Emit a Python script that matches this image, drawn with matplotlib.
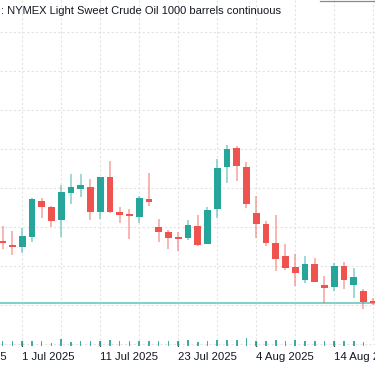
import matplotlib
matplotlib.use("Agg")
import matplotlib.pyplot as plt
import matplotlib.transforms as mtransforms
from matplotlib.lines import Line2D
import numpy as np

# ---- data ----
dates = ["27 Jun", "30 Jun", "1 Jul", "2 Jul", "3 Jul", "4 Jul", "7 Jul", "8 Jul", "9 Jul", "10 Jul",
         "11 Jul", "14 Jul", "15 Jul", "16 Jul", "17 Jul", "18 Jul", "21 Jul", "22 Jul", "23 Jul", "24 Jul",
         "25 Jul", "28 Jul", "29 Jul", "30 Jul", "31 Jul", "1 Aug", "4 Aug", "5 Aug", "6 Aug", "7 Aug",
         "8 Aug", "11 Aug", "12 Aug", "13 Aug", "14 Aug", "15 Aug", "18 Aug", "19 Aug", "20 Aug"]
opens = [65.31, 65.04, 65.01, 65.50, 67.36, 67.03, 66.37, 67.76, 67.98, 68.08,
         66.81, 68.56, 66.80, 66.68, 66.54, 67.45, 66.00, 65.76, 65.49, 65.44,
         66.07, 65.13, 66.94, 69.11, 70.05, 69.11, 66.72, 66.17, 65.19, 64.53,
         63.95, 63.30, 64.12, 63.04, 62.92, 64.02, 63.04, 62.75, 62.15]
highs = [66.08, 65.81, 65.95, 67.48, 67.49, 67.11, 68.17, 68.72, 68.73, 68.46,
         68.59, 69.42, 67.06, 66.94, 67.61, 68.80, 66.41, 65.86, 65.76, 66.37,
         66.63, 67.03, 69.50, 70.24, 70.17, 69.33, 67.61, 66.34, 66.63, 65.14,
         64.63, 64.53, 64.43, 63.50, 64.18, 64.24, 63.91, 62.82, 62.36]
lows = [64.87, 64.56, 64.70, 65.26, 66.49, 66.03, 65.52, 67.21, 67.57, 66.37,
        66.44, 66.71, 66.21, 65.40, 66.24, 67.09, 65.25, 64.87, 64.80, 65.35,
        65.06, 65.12, 66.48, 68.29, 68.39, 66.97, 65.44, 65.04, 63.76, 63.81,
        62.99, 63.16, 63.20, 62.13, 62.75, 62.84, 62.39, 61.79, 62.02]
closes = [65.18, 64.99, 65.55, 67.44, 67.06, 66.31, 67.79, 68.05, 68.15, 66.78,
          68.56, 66.76, 66.64, 66.56, 67.49, 67.28, 65.76, 65.47, 65.40, 66.12,
          65.09, 66.89, 69.06, 70.02, 69.14, 67.18, 66.18, 65.19, 64.36, 63.93,
          63.67, 64.12, 63.21, 62.87, 64.02, 63.28, 63.44, 62.18, 62.12]
volumes = [300, 300, 300, 300, 300, 140, 380, 220, 280, 300,
           300, 360, 280, 300, 280, 280, 280, 280, 300, 320,
           220, 300, 340, 340, 340, 440, 300, 300, 340, 300,
           360, 280, 300, 260, 300, 280, 260, 220, 0]
tick_idx = [-6, 2, 10, 18, 26, 34]
tick_labels = ["19 Jun 2025", "1 Jul 2025", "11 Jul 2025", "23 Jul 2025", "4 Aug 2025", "14 Aug 2025"]
grid_prices = [60, 62, 64, 66, 68, 70, 72, 74, 76]
title = ": NYMEX Light Sweet Crude Oil 1000 barrels continuous"

UP = "#26a69a"
DOWN = "#ef5350"

W, H = 375, 366
fig = plt.figure(figsize=(W / 100, H / 100), dpi=100)
fig.patch.set_facecolor("white")

axis_px = 347.0
ax = fig.add_axes([0, (H - axis_px) / H, 1, axis_px / H])
ax.set_facecolor("white")
XLIM = (-0.277, 38.18)
YLIM = (59.862, 77.656)
ppx = (YLIM[1] - YLIM[0]) / axis_px  # price per pixel

x = np.arange(len(opens))

# grid (vertical lines stop a little above the volume strip)
for gp in grid_prices:
    ax.axhline(gp, color="#e3e3e3", lw=0.8, ls=(0, (2, 2)), zorder=0)
ax.vlines(np.arange(-6, 40, 4), YLIM[0] + 7 * ppx, YLIM[1], color="#e3e3e3", lw=0.8,
          linestyles=[(0, (2, 2))], zorder=0)

o = np.array(opens); c = np.array(closes); hi = np.array(highs); lo = np.array(lows)
colors = [UP if cc >= oo else DOWN for oo, cc in zip(o, c)]
ax.vlines(x, lo, hi, colors=colors, lw=1.1, alpha=0.55, zorder=2)
bottoms = np.minimum(o, c)
heights = np.maximum(np.abs(c - o), 0.08)
ax.bar(x, heights, bottom=bottoms, width=0.68, color=colors, edgecolor="none", zorder=3)

# last price line
ax.axhline(closes[-1], color="#7fd1c8", lw=1.4, zorder=1)

# x axis ticks and labels (left-aligned at tick, as in the reference)
ax.set_xticks([])
ax.set_yticks([])
for s in ax.spines.values():
    s.set_visible(False)
ax.vlines(tick_idx, YLIM[0], YLIM[0] + 6 * ppx, color="#4a4a4a", lw=0.9, zorder=5)
trans = mtransforms.blended_transform_factory(ax.transData, fig.transFigure)
for ti, tl in zip(tick_idx, tick_labels):
    ax.text(ti, 1 - 351.5 / H, tl, transform=trans, ha="left", va="top",
            fontsize=8.2, family="Liberation Sans", color="#131722", clip_on=False)

# volume strip
base_px = 345.7
vax = fig.add_axes([0, (H - base_px) / H, 1, 40 / H])
vax.bar(x, volumes, width=0.16, color=UP, alpha=0.9, edgecolor="none")
vax.set_xlim(*XLIM)
vax.set_ylim(0, 2400)
vax.axis("off")
vax.patch.set_visible(False)
vax.set_zorder(2)
ax.set_zorder(1)

ax.set_xlim(*XLIM)
ax.set_ylim(*YLIM)

fig.text(1 / W, 1 - 11.5 / H, title, fontsize=8, family="Liberation Sans",
         color="#131722", va="center", ha="left")

# thin panel border fragment at the top right
fig.add_artist(Line2D([320 / W, 1], [1 - 0.6 / H, 1 - 0.6 / H], color="#8a8a8a", lw=0.9,
                      transform=fig.transFigure))

fig.savefig("out.png", dpi=100)
